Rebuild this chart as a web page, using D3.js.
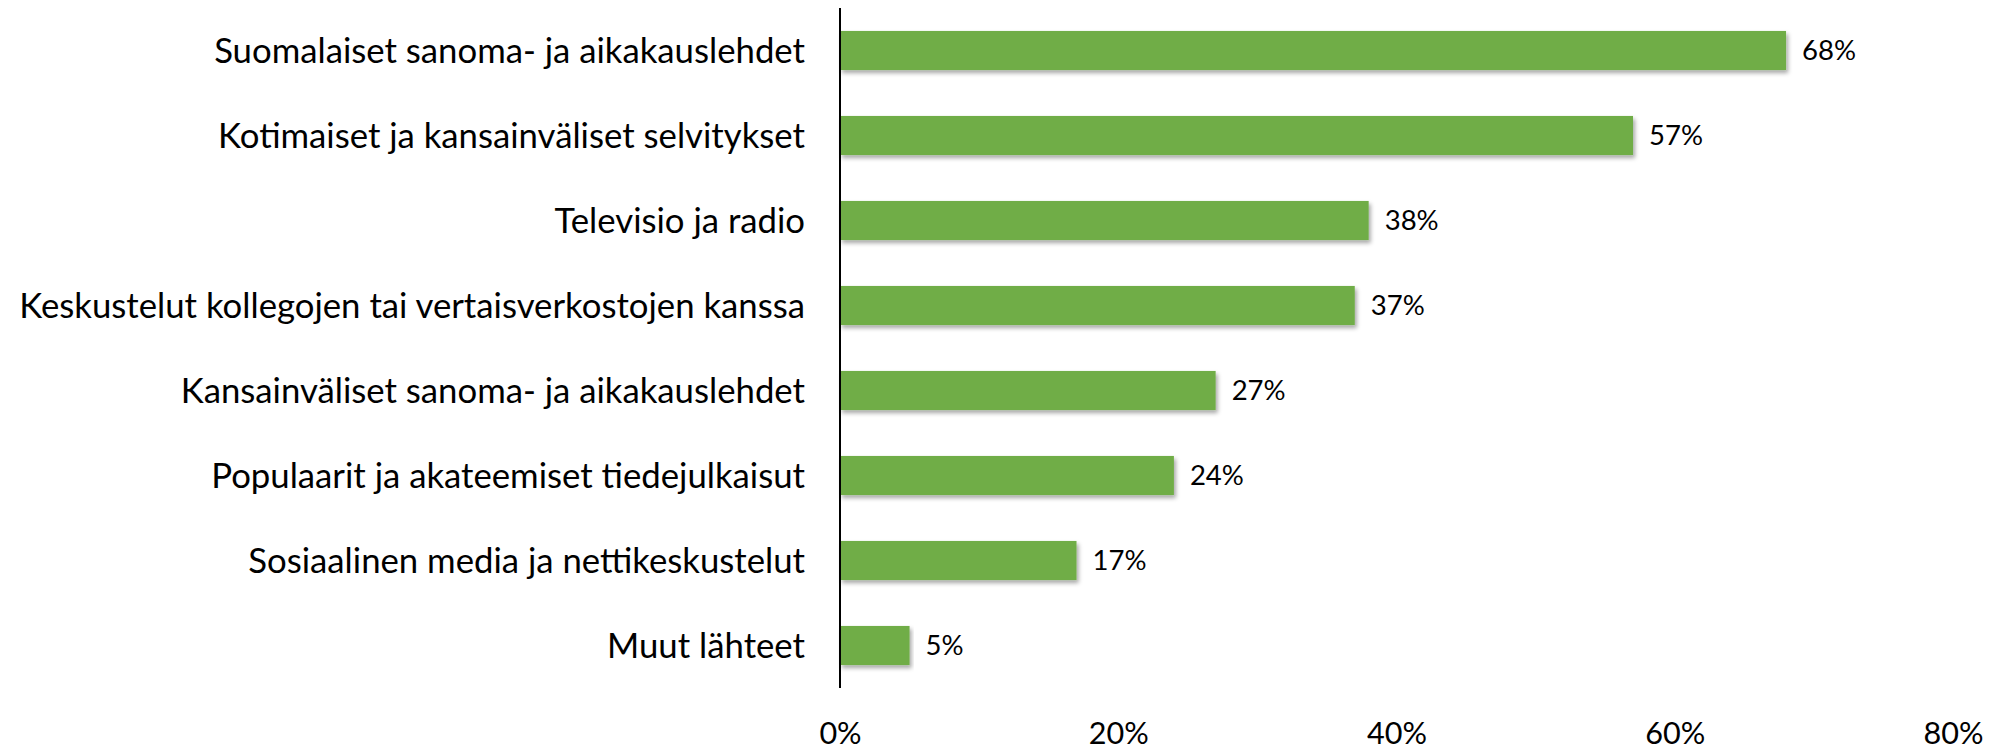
<!DOCTYPE html>
<html>
<head>
<meta charset="utf-8">
<script src="https://cdn.jsdelivr.net/npm/d3@7"></script>
<style>
  html, body { margin: 0; padding: 0; background: #fff; }
  svg { display: block; }
  text { font-family: Lato, "Open Sans", sans-serif; fill: #000; }
</style>
</head>
<body>
<svg id="chart"></svg>
<script>
const categories = [
  'Suomalaiset sanoma- ja aikakauslehdet',
  'Kotimaiset ja kansainväliset selvitykset',
  'Televisio ja radio',
  'Keskustelut kollegojen tai vertaisverkostojen kanssa',
  'Kansainväliset sanoma- ja aikakauslehdet',
  'Populaarit ja akateemiset tiedejulkaisut',
  'Sosiaalinen media ja nettikeskustelut',
  'Muut lähteet'
]
const values = [0.68, 0.57, 0.38, 0.37, 0.27, 0.24, 0.17, 0.05]
const ticks = [0, 0.2, 0.4, 0.6, 0.8]

const width = 2011
const height = 751
const svg = d3.select('#chart').attr('width', width).attr('height', height)

// shadow under the bars
const defs = svg.append('defs')
defs.append('filter')
  .attr('id', 'shadow')
  .attr('x', '-5%').attr('y', '-20%')
  .attr('width', '110%').attr('height', '160%')
  .append('feDropShadow')
  .attr('dx', 2).attr('dy', 3)
  .attr('stdDeviation', 2)
  .attr('flood-color', '#000')
  .attr('flood-opacity', 0.35)

const x = d3.scaleLinear().domain([0, 0.8]).range([840, 1953])
const y = d3.scaleBand().domain(categories).range([8, 688])
  .paddingInner(0.54).paddingOuter(0.27)

// fit a font size so a sample string has a target width
function fitSize (sample, target, base) {
  const t = svg.append('text').attr('font-size', base).text(sample)
  const w = t.node().getComputedTextLength()
  t.remove()
  return base * target / w
}
const longest = categories.reduce((a, b) => (a.length > b.length ? a : b))
const catSize = fitSize(longest, 786, 32)
const tickSize = fitSize('80%', 60, 32)
const valSize = fitSize('68%', 54, 30)

svg.append('g')
  .selectAll('rect')
  .data(values)
  .join('rect')
  .attr('x', x(0))
  .attr('y', (d, i) => y(categories[i]))
  .attr('width', d => x(d) - x(0))
  .attr('height', y.bandwidth())
  .attr('fill', '#70AD47')
  .attr('filter', 'url(#shadow)')

// value labels
svg.append('g')
  .selectAll('text')
  .data(values)
  .join('text')
  .attr('x', d => x(d) + 16)
  .attr('y', (d, i) => y(categories[i]) + y.bandwidth() / 2)
  .attr('dy', '0.35em')
  .attr('font-size', valSize)
  .text(d => d3.format('.0%')(d))

// category labels
svg.append('g')
  .selectAll('text')
  .data(categories)
  .join('text')
  .attr('x', x(0) - 35)
  .attr('y', d => y(d) + y.bandwidth() / 2)
  .attr('dy', '0.35em')
  .attr('text-anchor', 'end')
  .attr('font-size', catSize)
  .text(d => d)

// vertical category axis line
svg.append('line')
  .attr('x1', x(0)).attr('x2', x(0))
  .attr('y1', y.range()[0]).attr('y2', y.range()[1])
  .attr('stroke', '#000')
  .attr('stroke-width', 2)

// bottom value axis, labels only
const xAxis = svg.append('g')
  .attr('transform', 'translate(0, 744)')
  .call(d3.axisBottom(x).tickValues(ticks).tickFormat(d3.format('.0%')).tickSize(0).tickPadding(0))
xAxis.select('.domain').remove()
xAxis.selectAll('text')
  .attr('y', 0)
  .attr('dy', 0)
  .attr('font-size', tickSize)
  .attr('font-family', 'Lato, "Open Sans", sans-serif')
  .attr('fill', '#000')
</script>
</body>
</html>
